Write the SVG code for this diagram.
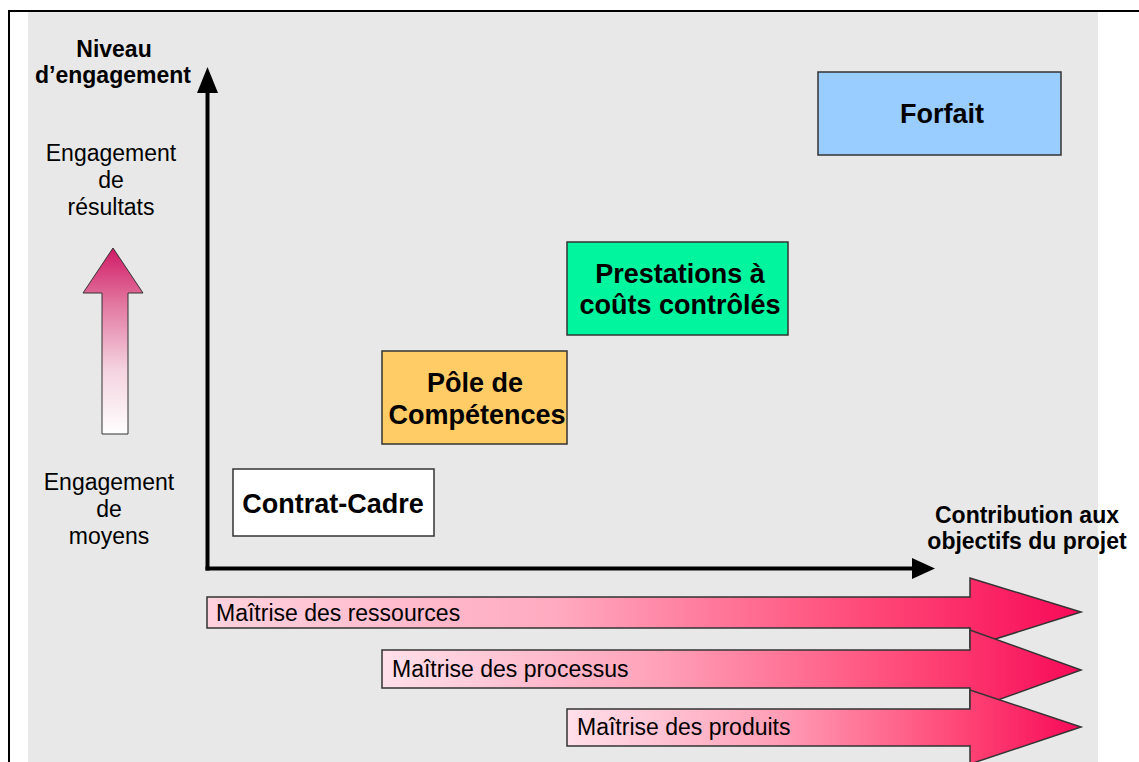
<svg xmlns="http://www.w3.org/2000/svg" width="1139" height="762" viewBox="0 0 1139 762">
<defs>
<style>
.bold{font-family:"Liberation Sans",Arial,sans-serif;font-weight:bold;fill:#000;}
.reg{font-family:"Liberation Sans",Arial,sans-serif;fill:#000;}
.box{stroke:#333;stroke-width:1.5;}
.big{stroke:#333;stroke-width:1.5;}
</style>
<linearGradient id="upGrad" x1="0" y1="1" x2="0" y2="0">
<stop offset="0" stop-color="#ffffff"/>
<stop offset="0.35" stop-color="#f4d2df"/>
<stop offset="0.7" stop-color="#e2779f"/>
<stop offset="1" stop-color="#d01a66"/>
</linearGradient>
<linearGradient id="pinkGrad" x1="0" y1="0" x2="1" y2="0">
<stop offset="0" stop-color="#ffe0ea"/>
<stop offset="0.4" stop-color="#ffa0b8"/>
<stop offset="0.75" stop-color="#ff4a78"/>
<stop offset="1" stop-color="#f70a58"/>
</linearGradient>
<linearGradient id="pinkGrad1" x1="0" y1="0" x2="1" y2="0">
<stop offset="0" stop-color="#ffd2de"/>
<stop offset="0.4" stop-color="#ffaac0"/>
<stop offset="0.75" stop-color="#ff4a78"/>
<stop offset="1" stop-color="#f70a58"/>
</linearGradient>
</defs>

<!-- background and frame -->
<rect x="0" y="0" width="1139" height="762" fill="#ffffff"/>
<rect x="28" y="12" width="1070" height="750" fill="#e8e8e8"/>
<line x1="8" y1="11" x2="1139" y2="11" stroke="#000" stroke-width="2"/>
<line x1="9" y1="10" x2="9" y2="762" stroke="#000" stroke-width="2"/>

<!-- axes -->
<g id="axes">
<line x1="207.5" y1="90" x2="207.5" y2="570.5" stroke="#000" stroke-width="4"/>
<polygon points="207.5,67 197,93 218,93" fill="#000"/>
<line x1="205.5" y1="568.5" x2="914" y2="568.5" stroke="#000" stroke-width="4"/>
<polygon points="935,568.5 912,558 912,579" fill="#000"/>
</g>

<g id="axis-labels">
<text class="bold" font-size="23" x="114" y="57" text-anchor="middle">Niveau</text>
<text class="bold" font-size="23" x="113" y="83" text-anchor="middle">d’engagement</text>
<text class="bold" font-size="23" x="1027" y="523" text-anchor="middle">Contribution aux</text>
<text class="bold" font-size="23" x="1027" y="549" text-anchor="middle">objectifs du projet</text>
</g>

<!-- engagement scale -->
<g id="engagement-scale">
<text class="reg" font-size="23" x="111" y="161" text-anchor="middle">Engagement</text>
<text class="reg" font-size="23" x="111" y="188" text-anchor="middle">de</text>
<text class="reg" font-size="23" x="111" y="215" text-anchor="middle">résultats</text>
<polygon points="113,248 143,293 128,293 128,434 102,434 102,293 83,293" fill="url(#upGrad)" stroke="#333" stroke-width="1"/>
<text class="reg" font-size="23" x="109" y="490" text-anchor="middle">Engagement</text>
<text class="reg" font-size="23" x="109" y="517" text-anchor="middle">de</text>
<text class="reg" font-size="23" x="109" y="544" text-anchor="middle">moyens</text>
</g>

<!-- nodes -->
<g id="node-forfait">
<rect class="box" x="818" y="72" width="243" height="83" fill="#99ccff"/>
<text class="bold" font-size="27" x="942" y="123" text-anchor="middle">Forfait</text>
</g>
<g id="node-prestations">
<rect class="box" x="567" y="242" width="221" height="93" fill="#00f59e"/>
<text class="bold" font-size="27" x="680" y="283" text-anchor="middle">Prestations à</text>
<text class="bold" font-size="27" x="680" y="314" text-anchor="middle">coûts contrôlés</text>
</g>
<g id="node-pole">
<rect class="box" x="382" y="351" width="185" height="93" fill="#ffcc66"/>
<text class="bold" font-size="27" x="475" y="392" text-anchor="middle">Pôle de</text>
<text class="bold" font-size="27" x="477" y="424" text-anchor="middle">Compétences</text>
</g>
<g id="node-contrat">
<rect class="box" x="233" y="469" width="201" height="67" fill="#ffffff"/>
<text class="bold" font-size="27" x="333" y="513" text-anchor="middle">Contrat-Cadre</text>
</g>

<!-- bottom arrows -->
<g id="arrow-ressources">
<polygon class="big" points="207,597 970,597 970,578 1081,612 970,647 970,628 207,628" fill="url(#pinkGrad1)"/>
<text class="reg" font-size="23" x="216" y="621">Maîtrise des ressources</text>
</g>
<g id="arrow-processus">
<polygon class="big" points="382,650 970,650 970,630 1081,670 970,710 970,688 382,688" fill="url(#pinkGrad)"/>
<text class="reg" font-size="23" x="392" y="677">Maîtrise des processus</text>
</g>
<g id="arrow-produits">
<polygon class="big" points="567,709 970,709 970,690 1081,727 970,764 970,746 567,746" fill="url(#pinkGrad)"/>
<text class="reg" font-size="23" x="577" y="735">Maîtrise des produits</text>
</g>
</svg>
